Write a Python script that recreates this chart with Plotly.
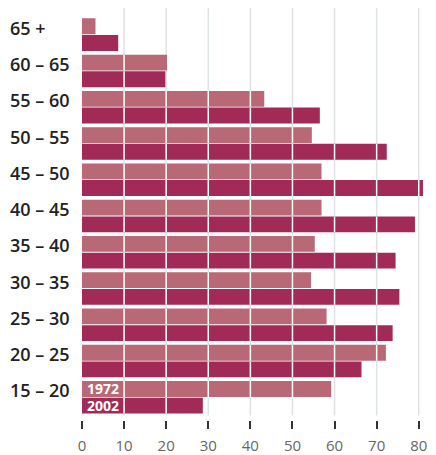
import plotly.graph_objects as go

# employment rate by age group, 1972 vs 2002
age_groups = ['65 +', '60 – 65', '55 – 60', '50 – 55', '45 – 50', '40 – 45',
              '35 – 40', '30 – 35', '25 – 30', '20 – 25', '15 – 20']
rate_1972 = [3.2, 20.2, 43.3, 54.6, 56.9, 56.9, 55.3, 54.4, 58.1, 72.2, 59.2]
rate_2002 = [8.6, 19.8, 56.5, 72.4, 81.0, 79.1, 74.5, 75.4, 73.8, 66.4, 28.7]
years = ['1972', '2002']
x_ticks = [0, 10, 20, 30, 40, 50, 60, 70, 80]

colors = ['#b96876', '#a22a56']
BARGAP = 0.08
GROUPGAP = 0.05
slot = (1 - BARGAP) / 2
bar_w = slot * (1 - GROUPGAP)
offsets = [-slot / 2, slot / 2]

X_MAX = 82.2
L_MARGIN = 74
R_MARGIN = 8
FIG_W = 428
plot_w = FIG_W - L_MARGIN - R_MARGIN

ypos = list(range(len(age_groups)))

fig = go.Figure()

for year, vals, col in zip(years, [rate_1972, rate_2002], colors):
    fig.add_trace(go.Bar(
        x=vals,
        y=ypos,
        orientation='h',
        name=year,
        marker=dict(color=col, line=dict(width=0)),
        hoverinfo='x+name',
    ))

# white grid lines running through the bars
xs, ys = [], []
for vals, off in zip([rate_1972, rate_2002], offsets):
    for i, v in enumerate(vals):
        for t in x_ticks[1:]:
            if t < v - 0.3:
                xs += [t, t, None]
                ys += [i + off - bar_w / 2, i + off + bar_w / 2, None]
fig.add_trace(go.Scatter(
    x=xs, y=ys, mode='lines',
    line=dict(color='white', width=1.5),
    hoverinfo='skip',
))

# grey grid lines behind
for t in x_ticks[1:]:
    fig.add_shape(type='line', xref='x', yref='y domain', x0=t, x1=t, y0=0, y1=1,
                  line=dict(color='#dde2e2', width=1.5), layer='below')

# age labels, left aligned
for i, lab in enumerate(age_groups):
    fig.add_annotation(
        text=lab, xref='paper', yref='y', x=-L_MARGIN / plot_w, y=i + offsets[0],
        xanchor='left', yanchor='middle', yshift=-1.5, showarrow=False,
        font=dict(family='Open Sans', size=18, color='#222', weight=600),
    )

# legend inside the bottom bars
last = len(age_groups) - 1
for year, off in zip(years, offsets):
    fig.add_annotation(
        text=year, xref='x', yref='y', x=5, y=last + off,
        xanchor='center', yanchor='middle', showarrow=False,
        font=dict(family='Open Sans', size=14, color='white', weight='bold'),
    )

# the page body adds an 8px margin, so the figure is shifted and kept narrower
fig.update_layout(
    width=FIG_W, height=447,
    margin=dict(l=L_MARGIN, r=R_MARGIN, t=0, b=35, autoexpand=False),
    plot_bgcolor='white', paper_bgcolor='white',
    barmode='group', bargap=BARGAP, bargroupgap=GROUPGAP,
    showlegend=False,
    xaxis=dict(
        range=[0, X_MAX], tickvals=x_ticks,
        ticks='outside', ticklen=8, tickwidth=2, tickcolor='#333',
        showgrid=False, zeroline=False, showline=False, automargin=False,
        anchor='free', position=0, ticklabelstandoff=4,
        tickfont=dict(family='Open Sans', size=15, color='#666'),
    ),
    yaxis=dict(
        range=[last + 0.5, -0.734], domain=[0.011, 1], automargin=False,
        showticklabels=False, showgrid=False, zeroline=False, ticks='',
    ),
)

fig.write_html("out.html")
